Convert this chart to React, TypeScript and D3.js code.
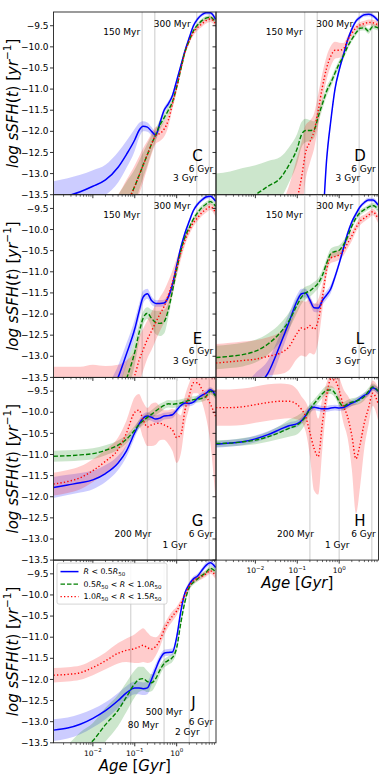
import * as d3 from "d3";

// ages in Gyr, shared by every curve
const ages = [0.00115, 0.0025, 0.005, 0.01, 0.02, 0.04, 0.063, 0.1, 0.126, 0.158, 0.2, 0.251, 0.316, 0.398, 0.501, 0.631, 0.794, 1.0, 1.26, 1.58, 2.0, 2.51, 3.16, 3.98, 5.01, 6.31, 8.5];

// panel C
const cBlue = [-13.62, -13.53, -13.43, -13.3, -13.15, -12.85, -12.55, -12.2, -11.98, -11.88, -11.9, -12.0, -12.09, -11.8, -11.5, -11.35, -11.15, -10.8, -10.44, -10.09, -9.78, -9.5, -9.34, -9.24, -9.19, -9.19, -9.35];
const cBlueErr = [0.44, 0.42, 0.4, 0.38, 0.36, 0.36, 0.32, 0.26, 0.18, 0.12, 0.11, 0.1, 0.08, 0.08, 0.07, 0.07, 0.06, 0.06, 0.06, 0.06, 0.05, 0.05, 0.05, 0.05, 0.05, 0.05, 0.06];
const cGreen = [-16, -15.6, -15.2, -14.9, -14.6, -14.2, -13.75, -13.3, -13.05, -12.8, -12.55, -12.3, -12.08, -11.85, -11.68, -11.5, -11.3, -10.95, -10.52, -10.12, -9.85, -9.62, -9.48, -9.38, -9.32, -9.3, -9.42];
const cGreenErr = [0.8, 0.8, 0.8, 0.8, 0.75, 0.7, 0.55, 0.4, 0.35, 0.3, 0.26, 0.2, 0.15, 0.12, 0.1, 0.1, 0.08, 0.07, 0.06, 0.06, 0.05, 0.05, 0.05, 0.05, 0.05, 0.05, 0.06];
const cRed = [-16, -15.6, -15.2, -14.9, -14.6, -14.2, -13.75, -13.3, -13.05, -12.8, -12.55, -12.3, -12.1, -12.05, -11.95, -11.74, -11.35, -10.96, -10.52, -10.13, -9.85, -9.66, -9.54, -9.46, -9.38, -9.34, -9.45];
const cRedErr = [0.8, 0.8, 0.8, 0.8, 0.75, 0.7, 0.6, 0.5, 0.45, 0.4, 0.32, 0.25, 0.2, 0.18, 0.18, 0.15, 0.12, 0.1, 0.08, 0.07, 0.07, 0.07, 0.07, 0.07, 0.07, 0.07, 0.08];

// panel D
const dBlue = [-18, -18, -18, -18, -18, -18, -18, -18, -18, -17.6, -17.1, -16.5, -15.5, -14.3, -12.68, -11.75, -11.0, -10.55, -10.19, -9.85, -9.58, -9.39, -9.3, -9.24, -9.23, -9.26, -9.38];
const dBlueErr = [0.05, 0.05, 0.05, 0.05, 0.05, 0.05, 0.05, 0.05, 0.05, 0.05, 0.06, 0.07, 0.08, 0.08, 0.08, 0.07, 0.06, 0.06, 0.05, 0.05, 0.05, 0.05, 0.05, 0.05, 0.05, 0.05, 0.06];
const dGreen = [-13.9, -13.8, -13.65, -13.5, -13.3, -13.1, -12.8, -12.4, -12.08, -11.98, -11.98, -11.96, -11.65, -11.35, -11.05, -10.85, -10.62, -10.4, -10.22, -10.0, -9.82, -9.67, -9.56, -9.55, -9.63, -9.52, -9.55];
const dGreenErr = [0.9, 0.85, 0.78, 0.7, 0.6, 0.5, 0.42, 0.35, 0.3, 0.28, 0.25, 0.2, 0.16, 0.13, 0.12, 0.1, 0.1, 0.09, 0.08, 0.07, 0.06, 0.06, 0.06, 0.06, 0.06, 0.06, 0.07];
const dRed = [-17, -17, -17, -16.5, -16, -15.3, -14.5, -13.6, -13.1, -12.5, -12.25, -12.0, -11.5, -10.95, -10.5, -10.22, -10.08, -10.08, -10.05, -9.85, -9.68, -9.55, -9.48, -9.45, -9.42, -9.43, -9.48];
const dRedErr = [1.2, 1.2, 1.2, 1.3, 1.4, 1.5, 1.2, 1.0, 0.85, 0.65, 0.5, 0.42, 0.38, 0.33, 0.28, 0.24, 0.2, 0.18, 0.14, 0.1, 0.08, 0.07, 0.07, 0.07, 0.07, 0.07, 0.08];

// panel E
const eBlue = [-15.5, -15.2, -14.9, -14.6, -14.1, -13.5, -12.95, -12.35, -11.95, -11.6, -11.52, -11.68, -11.75, -11.75, -11.74, -11.6, -11.3, -10.85, -10.42, -10.08, -9.8, -9.55, -9.4, -9.3, -9.23, -9.21, -9.33];
const eBlueErr = [0.3, 0.3, 0.3, 0.3, 0.3, 0.28, 0.25, 0.22, 0.18, 0.15, 0.12, 0.1, 0.08, 0.08, 0.08, 0.08, 0.07, 0.07, 0.06, 0.06, 0.06, 0.05, 0.05, 0.05, 0.05, 0.05, 0.06];
const eGreen = [-16, -15.7, -15.4, -15.1, -14.7, -14.2, -13.55, -12.9, -12.45, -12.1, -11.98, -12.1, -12.2, -12.22, -12.18, -11.9, -11.45, -10.95, -10.5, -10.18, -9.95, -9.75, -9.6, -9.48, -9.4, -9.34, -9.45];
const eGreenErr = [0.5, 0.5, 0.5, 0.5, 0.5, 0.45, 0.38, 0.3, 0.22, 0.16, 0.14, 0.2, 0.28, 0.3, 0.28, 0.18, 0.12, 0.1, 0.08, 0.07, 0.06, 0.06, 0.06, 0.06, 0.06, 0.06, 0.07];
const eRed = [-14.0, -14.0, -14.0, -13.95, -13.95, -13.9, -13.75, -13.45, -13.1, -12.85, -12.6, -12.4, -12.2, -12.0, -11.82, -11.55, -11.25, -10.9, -10.55, -10.25, -10.02, -9.84, -9.72, -9.6, -9.52, -9.46, -9.6];
const eRedErr = [0.75, 0.75, 0.75, 0.75, 0.72, 0.7, 0.65, 0.6, 0.55, 0.5, 0.45, 0.45, 0.42, 0.4, 0.38, 0.33, 0.28, 0.22, 0.16, 0.12, 0.1, 0.09, 0.08, 0.08, 0.08, 0.08, 0.1];

// panel L
const lBlue = [-14.6, -14.4, -14.1, -13.75, -13.4, -12.7, -12.2, -11.68, -11.52, -11.5, -11.67, -11.85, -11.86, -11.68, -11.55, -11.4, -11.12, -10.8, -10.45, -10.1, -9.82, -9.63, -9.46, -9.36, -9.3, -9.3, -9.42];
const lBlueErr = [0.35, 0.35, 0.35, 0.35, 0.3, 0.25, 0.2, 0.15, 0.12, 0.1, 0.1, 0.1, 0.1, 0.1, 0.1, 0.1, 0.08, 0.08, 0.07, 0.07, 0.06, 0.06, 0.05, 0.05, 0.05, 0.05, 0.06];
const lGreen = [-13.03, -13.0, -12.96, -12.88, -12.71, -12.43, -12.17, -11.78, -11.6, -11.5, -11.45, -11.37, -11.27, -11.08, -10.8, -10.57, -10.52, -10.49, -10.36, -10.18, -9.92, -9.73, -9.6, -9.53, -9.47, -9.43, -9.52];
const lGreenErr = [0.28, 0.28, 0.28, 0.27, 0.25, 0.22, 0.2, 0.18, 0.16, 0.15, 0.14, 0.13, 0.12, 0.12, 0.12, 0.12, 0.12, 0.12, 0.1, 0.08, 0.07, 0.07, 0.07, 0.06, 0.06, 0.06, 0.07];
const lRed = [-13.16, -13.13, -13.1, -13.07, -13.0, -12.92, -12.78, -12.45, -12.33, -12.36, -12.27, -12.36, -12.15, -11.6, -10.95, -10.67, -10.64, -10.6, -10.5, -10.33, -10.15, -9.96, -9.8, -9.73, -9.66, -9.58, -9.75];
const lRedErr = [0.45, 0.45, 0.45, 0.45, 0.45, 0.5, 0.55, 0.6, 0.65, 0.65, 0.65, 0.6, 0.5, 0.3, 0.15, 0.12, 0.12, 0.12, 0.12, 0.12, 0.12, 0.1, 0.1, 0.08, 0.08, 0.08, 0.1];

// panel G
const gBlue = [-11.78, -11.72, -11.67, -11.6, -11.45, -11.2, -10.92, -10.48, -10.28, -10.14, -10.09, -10.12, -10.16, -10.14, -10.09, -10.08, -10.06, -9.95, -9.84, -9.78, -9.79, -9.76, -9.67, -9.6, -9.55, -9.47, -9.6];
const gBlueErr = [0.25, 0.24, 0.23, 0.22, 0.2, 0.17, 0.14, 0.12, 0.1, 0.1, 0.09, 0.09, 0.09, 0.09, 0.08, 0.08, 0.08, 0.08, 0.07, 0.07, 0.07, 0.07, 0.07, 0.07, 0.07, 0.07, 0.08];
const gGreen = [-11.04, -11.03, -11.01, -10.98, -10.9, -10.78, -10.64, -10.42, -10.29, -10.2, -10.12, -10.05, -9.97, -9.9, -9.84, -9.8, -9.81, -9.8, -9.78, -9.75, -9.72, -9.7, -9.69, -9.67, -9.63, -9.5, -9.62];
const gGreenErr = [0.13, 0.13, 0.13, 0.13, 0.12, 0.11, 0.1, 0.1, 0.1, 0.1, 0.1, 0.1, 0.1, 0.1, 0.09, 0.09, 0.09, 0.09, 0.09, 0.08, 0.08, 0.08, 0.08, 0.08, 0.08, 0.08, 0.08];
const gRed = [-11.7, -11.64, -11.55, -11.38, -11.16, -10.88, -10.5, -10.0, -9.95, -10.18, -10.35, -10.3, -10.27, -10.26, -10.3, -10.35, -10.42, -10.6, -10.52, -9.95, -9.6, -9.3, -9.3, -9.45, -9.62, -9.8, -10.1];
const gRedErr = [0.27, 0.27, 0.27, 0.27, 0.27, 0.28, 0.3, 0.36, 0.38, 0.42, 0.45, 0.5, 0.5, 0.4, 0.35, 0.4, 0.5, 0.6, 0.45, 0.35, 0.3, 0.25, 0.25, 0.3, 0.5, 0.9, 2.0];

// panel H
const hBlue = [-10.76, -10.73, -10.7, -10.63, -10.53, -10.4, -10.32, -10.27, -10.2, -10.08, -9.92, -9.88, -9.9, -9.92, -9.92, -9.9, -9.89, -9.9, -9.89, -9.84, -9.78, -9.74, -9.67, -9.6, -9.55, -9.42, -9.5];
const hBlueErr = [0.08, 0.08, 0.08, 0.08, 0.08, 0.08, 0.08, 0.08, 0.08, 0.08, 0.08, 0.07, 0.07, 0.07, 0.07, 0.07, 0.07, 0.07, 0.07, 0.07, 0.07, 0.07, 0.07, 0.07, 0.07, 0.07, 0.08];
const hGreen = [-10.74, -10.73, -10.7, -10.66, -10.58, -10.47, -10.38, -10.3, -10.22, -10.1, -9.93, -9.8, -9.68, -9.56, -9.48, -9.47, -9.55, -9.75, -9.86, -9.8, -9.76, -9.74, -9.7, -9.63, -9.5, -9.4, -9.5];
const hGreenErr = [0.08, 0.08, 0.09, 0.1, 0.12, 0.16, 0.2, 0.22, 0.2, 0.16, 0.12, 0.1, 0.1, 0.1, 0.1, 0.1, 0.1, 0.1, 0.1, 0.09, 0.09, 0.09, 0.09, 0.09, 0.08, 0.08, 0.08];
const hRed = [-9.89, -9.89, -9.87, -9.82, -9.77, -9.74, -9.74, -9.82, -9.93, -10.1, -10.48, -10.85, -11.05, -10.25, -9.6, -9.22, -9.25, -9.48, -9.85, -10.1, -10.55, -11.1, -10.75, -10.25, -9.9, -9.55, -9.8];
const hRedErr = [0.43, 0.43, 0.43, 0.43, 0.43, 0.42, 0.4, 0.35, 0.3, 0.35, 0.55, 1.0, 0.9, 0.6, 0.3, 0.2, 0.2, 0.3, 0.4, 0.5, 0.8, 1.3, 1.0, 0.6, 0.4, 0.3, 0.4];

// panel J
const jBlue = [-13.2, -13.15, -13.06, -12.92, -12.74, -12.5, -12.32, -12.2, -12.2, -12.22, -12.2, -12.0, -11.75, -11.52, -11.38, -11.36, -11.35, -11.0, -10.38, -9.95, -9.75, -9.62, -9.55, -9.42, -9.3, -9.24, -9.35];
const jBlueErr = [0.26, 0.25, 0.24, 0.22, 0.2, 0.18, 0.16, 0.15, 0.15, 0.15, 0.15, 0.14, 0.12, 0.1, 0.08, 0.08, 0.08, 0.08, 0.07, 0.06, 0.06, 0.06, 0.06, 0.06, 0.06, 0.06, 0.07];
const jGreen = [-14.3, -14.0, -13.7, -13.45, -13.07, -12.73, -12.42, -12.1, -12.0, -11.98, -12.05, -12.08, -11.98, -11.78, -11.62, -11.55, -11.48, -11.25, -10.65, -10.15, -9.82, -9.7, -9.62, -9.54, -9.47, -9.37, -9.45];
const jGreenErr = [0.45, 0.45, 0.45, 0.42, 0.4, 0.37, 0.35, 0.32, 0.3, 0.28, 0.25, 0.2, 0.15, 0.12, 0.1, 0.1, 0.1, 0.1, 0.08, 0.07, 0.06, 0.06, 0.06, 0.06, 0.06, 0.06, 0.07];
const jRed = [-11.9, -11.88, -11.84, -11.72, -11.56, -11.38, -11.31, -11.27, -11.23, -11.19, -11.25, -11.28, -11.22, -11.07, -10.83, -10.64, -10.5, -10.38, -10.2, -10.0, -9.78, -9.66, -9.6, -9.56, -9.5, -9.43, -9.55];
const jRedErr = [0.17, 0.17, 0.17, 0.18, 0.2, 0.24, 0.28, 0.34, 0.38, 0.4, 0.36, 0.3, 0.22, 0.16, 0.13, 0.12, 0.12, 0.1, 0.09, 0.08, 0.08, 0.07, 0.07, 0.07, 0.07, 0.07, 0.08];

const yTicks = [-9.5, -10.0, -10.5, -11.0, -11.5, -12.0, -12.5, -13.0, -13.5];
const xTicks = [0.01, 0.1, 1];
const xTickExp = ["−2", "−1", "0"];

const marksA = [0.15, 0.3, 3, 6];
const marksB = [0.2, 1, 6];
const marksJ = [0.08, 0.5, 2, 6];

const notesA = [
  { text: "150 Myr", age: 0.15, anchor: "end", dx: -2, dy: 23 },
  { text: "300 Myr", age: 0.3, anchor: "start", dx: -1, dy: 14.5 },
  { text: "6 Gyr", age: 6, anchor: "end", dx: 4, dy: 159.5 },
  { text: "3 Gyr", age: 3, anchor: "end", dx: 1, dy: 169 },
];
const notesB = [
  { text: "200 Myr", age: 0.2, anchor: "end", dx: 4, dy: 160 },
  { text: "1 Gyr", age: 1, anchor: "middle", dx: -2, dy: 171 },
  { text: "6 Gyr", age: 6, anchor: "end", dx: 4, dy: 160 },
];
const notesJ = [
  { text: "500 Myr", age: 0.5, anchor: "middle", dx: 0, dy: 154.5 },
  { text: "80 Myr", age: 0.08, anchor: "start", dx: -3, dy: 168 },
  { text: "6 Gyr", age: 6, anchor: "end", dx: 4, dy: 165 },
  { text: "2 Gyr", age: 2, anchor: "middle", dx: -2, dy: 175 },
];

const panels = [
  { key: "C", col: 0, row: 0, s: [[cBlue, cBlueErr], [cGreen, cGreenErr], [cRed, cRedErr]], marks: marksA, notes: notesA },
  { key: "D", col: 1, row: 0, s: [[dBlue, dBlueErr], [dGreen, dGreenErr], [dRed, dRedErr]], marks: marksA, notes: notesA },
  { key: "E", col: 0, row: 1, s: [[eBlue, eBlueErr], [eGreen, eGreenErr], [eRed, eRedErr]], marks: marksA, notes: notesA },
  { key: "L", col: 1, row: 1, s: [[lBlue, lBlueErr], [lGreen, lGreenErr], [lRed, lRedErr]], marks: marksA, notes: notesA },
  { key: "G", col: 0, row: 2, s: [[gBlue, gBlueErr], [gGreen, gGreenErr], [gRed, gRedErr]], marks: marksB, notes: notesB },
  { key: "H", col: 1, row: 2, s: [[hBlue, hBlueErr], [hGreen, hGreenErr], [hRed, hRedErr]], marks: marksB, notes: notesB },
  { key: "J", col: 0, row: 3, s: [[jBlue, jBlueErr], [jGreen, jGreenErr], [jRed, jRedErr]], marks: marksJ, notes: notesJ },
];

const styles = [
  { color: "#0000ff", dash: null, w: 1.5 },
  { color: "#008000", dash: "4.5,2", w: 1.4 },
  { color: "#ff0000", dash: "1.3,2.2", w: 1.4 },
];

const PW = 162.5;
const PH = 182.7;
const colX = [53.5, 216];
const rowY = [12, 194.7, 377.4, 560.1];
const FONT = "DejaVu Sans";

export default function App() {
  const x = d3.scaleLog().domain([0.00115, 8.67]).range([0, PW]);
  const y = d3.scaleLinear().domain([-13.5, -9.175]).range([PH, 0]);

  const line = d3.line<number>().x((_, i) => x(ages[i])).y(d => y(d)).curve(d3.curveMonotoneX);
  const band = (mid: number[], err: number[]) =>
    d3.area<number>()
      .x((_, i) => x(ages[i]))
      .y0((d, i) => y(d - err[i]))
      .y1((d, i) => y(d + err[i]))
      .curve(d3.curveMonotoneX)(mid);

  // log minor ticks
  const minor: number[] = [];
  for (let e = -3; e <= 0; e++) {
    for (let k = 2; k <= 9; k++) {
      const v = k * Math.pow(10, e);
      if (v >= 0.00115 && v <= 8.67) minor.push(v);
    }
  }

  const yLabel = (cy: number, k: string) => (
    <text key={k} transform={`translate(13,${cy}) rotate(-90)`} textAnchor="middle" dominantBaseline="central"
      fontFamily={FONT} fontSize={15}>
      <tspan fontStyle="italic">log sSFH</tspan>(<tspan fontStyle="italic">t</tspan>) [<tspan fontStyle="italic">yr</tspan>
      <tspan fontSize={10.5} dy={-6}>−1</tspan><tspan dy={6}>]</tspan>
    </text>
  );

  const xLabels = (ox: number, oy: number) => (
    <g transform={`translate(${ox},${oy})`}>
      {xTicks.map((t, i) => (
        <text key={t} x={x(t)} y={PH + 13} textAnchor="middle" fontFamily={FONT} fontSize={7.5}>
          10<tspan fontSize={5.5} dy={-3.5}>{xTickExp[i]}</tspan>
        </text>
      ))}
      <text x={PW / 2} y={PH + 28} textAnchor="middle" fontFamily={FONT} fontSize={15}>
        <tspan fontStyle="italic">Age</tspan> [<tspan fontStyle="italic">Gyr</tspan>]
      </text>
    </g>
  );

  const sub = (t: string) => <tspan fontSize={5.5} dy={2}>{t}</tspan>;

  return (
    <svg width={391} height={781} style={{ position: "absolute", left: 0, top: 0, background: "#fff" }}>
      <defs>
        <clipPath id="pclip"><rect x={0} y={0} width={PW} height={PH} /></clipPath>
      </defs>
      <rect width={391} height={781} fill="#fff" />
      {panels.map(p => {
        const ox = colX[p.col];
        const oy = rowY[p.row];
        return (
          <g key={p.key} transform={`translate(${ox},${oy})`}>
            <g clipPath="url(#pclip)">
              {p.marks.map(m => (
                <line key={m} x1={x(m)} x2={x(m)} y1={0} y2={PH} stroke="#dadada" strokeWidth={1.4} />
              ))}
              {p.s.map(([mid, err], i) => (
                <path key={"b" + i} d={band(mid, err) || ""} fill={styles[i].color} fillOpacity={0.2} stroke="none" />
              ))}
              {p.s.map(([mid], i) => (
                <path key={"l" + i} d={line(mid) || ""} fill="none" stroke={styles[i].color}
                  strokeWidth={styles[i].w} strokeDasharray={styles[i].dash || undefined} />
              ))}
            </g>
            {p.notes.map(n => (
              <text key={n.text} x={x(n.age) + n.dx} y={n.dy} textAnchor={n.anchor} fontFamily={FONT} fontSize={9}>{n.text}</text>
            ))}
            <text x={p.key === "J" ? 140 : 144} y={p.key === "J" ? 148 : 149} textAnchor="middle" fontFamily={FONT} fontSize={15}>{p.key}</text>
            {yTicks.map(t => (
              <line key={t} x1={-3.5} x2={0} y1={y(t)} y2={y(t)} stroke="#000" strokeWidth={0.8} />
            ))}
            {p.col === 0 && yTicks.map(t => (
              <text key={"t" + t} x={-5} y={y(t)} dy="0.35em" textAnchor="end" fontFamily={FONT} fontSize={9}>
                {t.toFixed(1).replace("-", "−")}
              </text>
            ))}
            {xTicks.map(t => (
              <line key={t} x1={x(t)} x2={x(t)} y1={PH} y2={PH + 3.5} stroke="#000" strokeWidth={0.8} />
            ))}
            {minor.map(t => (
              <line key={"m" + t} x1={x(t)} x2={x(t)} y1={PH} y2={PH + 2} stroke="#000" strokeWidth={0.6} />
            ))}
            <rect x={0} y={0} width={PW} height={PH} fill="none" stroke="#222" strokeWidth={0.9} />
            {p.key === "J" && (
              <g fontFamily={FONT} fontSize={7.8}>
                <rect x={3.5} y={3} width={110} height={41} rx={2} fill="#fff" fillOpacity={0.85} stroke="#cccccc" strokeWidth={0.8} />
                {styles.map((s, i) => (
                  <line key={i} x1={7} x2={25} y1={11.5 + i * 12.5} y2={11.5 + i * 12.5} stroke={s.color}
                    strokeWidth={s.w} strokeDasharray={s.dash || undefined} />
                ))}
                <text x={30} y={11.5} dy="0.35em">
                  <tspan fontStyle="italic">R</tspan> &lt; 0.5<tspan fontStyle="italic">R</tspan>{sub("50")}
                </text>
                <text x={30} y={24} dy="0.35em">
                  0.5<tspan fontStyle="italic">R</tspan>{sub("50")}<tspan dy={-2}> &lt; </tspan><tspan fontStyle="italic">R</tspan> &lt; 1.0<tspan fontStyle="italic">R</tspan>{sub("50")}
                </text>
                <text x={30} y={36.5} dy="0.35em">
                  1.0<tspan fontStyle="italic">R</tspan>{sub("50")}<tspan dy={-2}> &lt; </tspan><tspan fontStyle="italic">R</tspan> &lt; 1.5<tspan fontStyle="italic">R</tspan>{sub("50")}
                </text>
              </g>
            )}
          </g>
        );
      })}
      {rowY.map((oy, i) => yLabel(oy + PH / 2, "yl" + i))}
      {xLabels(colX[0], rowY[3])}
      {xLabels(colX[1], rowY[2])}
    </svg>
  );
}
